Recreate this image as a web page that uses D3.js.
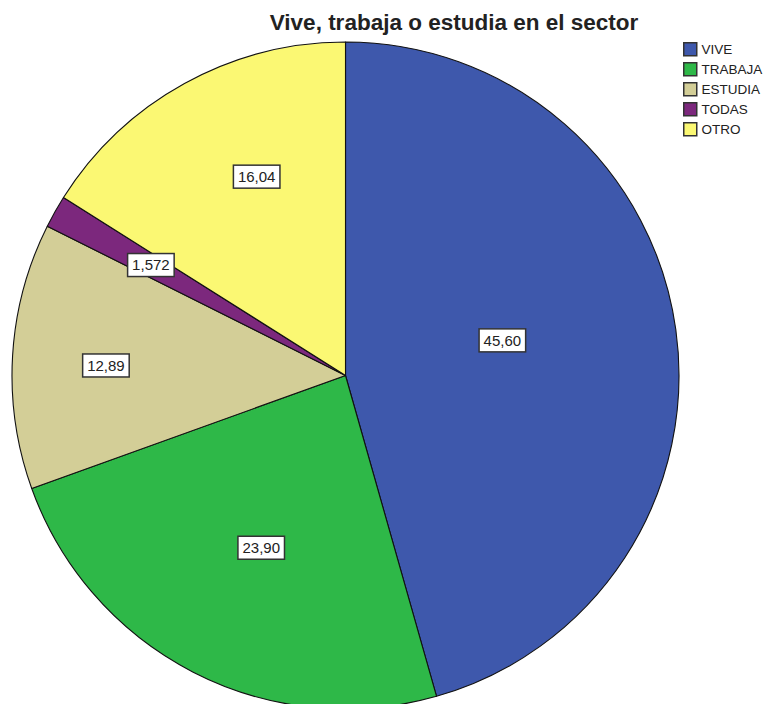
<!DOCTYPE html>
<html>
<head>
<meta charset="utf-8">
<script src="https://cdn.jsdelivr.net/npm/d3@7"></script>
<style>
  html, body { margin: 0; padding: 0; background: #fff; }
  svg { display: block; }
</style>
</head>
<body>
<script>
// ---- data ----
const categories = ["VIVE", "TRABAJA", "ESTUDIA", "TODAS", "OTRO"];
const values = [45.60, 23.90, 12.89, 1.572, 16.04];
const valueLabels = ["45,60", "23,90", "12,89", "1,572", "16,04"];
const colors = ["#3E58AC", "#2EB848", "#D3CE97", "#7C287D", "#FBF873"];
const titleText = "Vive, trabaja o estudia en el sector";

// ---- layout (label placement relative to each slice) ----
const labelRadiusFrac = [0.482, 0.575, 0.719, 0.671, 0.653];
const labelAngleShiftDeg = [-4.7, -1.1, -1.0, 0.15, 4.8];

const W = 776, H = 704;
const cx = 345.5, cy = 375.5, R = 333.5;

const svg = d3.select("body").append("svg")
  .attr("width", W).attr("height", H);

svg.append("text")
  .attr("x", 454).attr("y", 30)
  .attr("text-anchor", "middle")
  .attr("font-family", "Liberation Sans, Arial, sans-serif")
  .attr("font-weight", "bold")
  .attr("font-size", 22.5)
  .attr("fill", "#222")
  .text(titleText);

const data = categories.map((c, i) => ({ cat: c, value: values[i], label: valueLabels[i], color: colors[i], i }));

const pie = d3.pie().value(d => d.value).sort(null);
const arc = d3.arc().innerRadius(0).outerRadius(R);
const arcs = pie(data);

const g = svg.append("g").attr("transform", `translate(${cx},${cy})`);

g.selectAll("path.slice").data(arcs).enter().append("path")
  .attr("class", "slice")
  .attr("d", arc)
  .attr("fill", d => d.data.color)
  .attr("stroke", "#111")
  .attr("stroke-width", 1.1)
  .attr("stroke-linejoin", "round");

// labels
const lab = g.selectAll("g.lab").data(arcs).enter().append("g").attr("class", "lab")
  .attr("transform", d => {
    const a = (d.startAngle + d.endAngle) / 2 + labelAngleShiftDeg[d.data.i] * Math.PI / 180;
    const r = labelRadiusFrac[d.data.i] * R;
    return `translate(${r * Math.sin(a)},${-r * Math.cos(a)})`;
  });

lab.each(function(d) {
  const gg = d3.select(this);
  const t = gg.append("text")
    .attr("text-anchor", "middle")
    .attr("dy", "0.36em")
    .attr("font-family", "Liberation Sans, Arial, sans-serif")
    .attr("font-size", 15)
    .attr("fill", "#222")
    .text(d.data.label);
  const bb = t.node().getBBox();
  gg.insert("rect", "text")
    .attr("x", -bb.width / 2 - 4.5)
    .attr("y", -11.5)
    .attr("width", bb.width + 9)
    .attr("height", 23)
    .attr("fill", "#fff")
    .attr("stroke", "#333")
    .attr("stroke-width", 1.5);
});

// legend
const legend = svg.append("g").attr("transform", "translate(683,42)");
const li = legend.selectAll("g").data(data).enter().append("g")
  .attr("transform", (d, i) => `translate(0,${i * 20})`);
li.append("rect")
  .attr("x", 0.75).attr("y", 0.75)
  .attr("width", 13).attr("height", 13)
  .attr("fill", d => d.color)
  .attr("stroke", "#333")
  .attr("stroke-width", 1.5);
li.append("text")
  .attr("x", 18.5).attr("y", 7.5)
  .attr("dy", "0.36em")
  .attr("font-family", "Liberation Sans, Arial, sans-serif")
  .attr("font-size", 13.5)
  .attr("fill", "#222")
  .text(d => d.cat);
</script>
</body>
</html>
